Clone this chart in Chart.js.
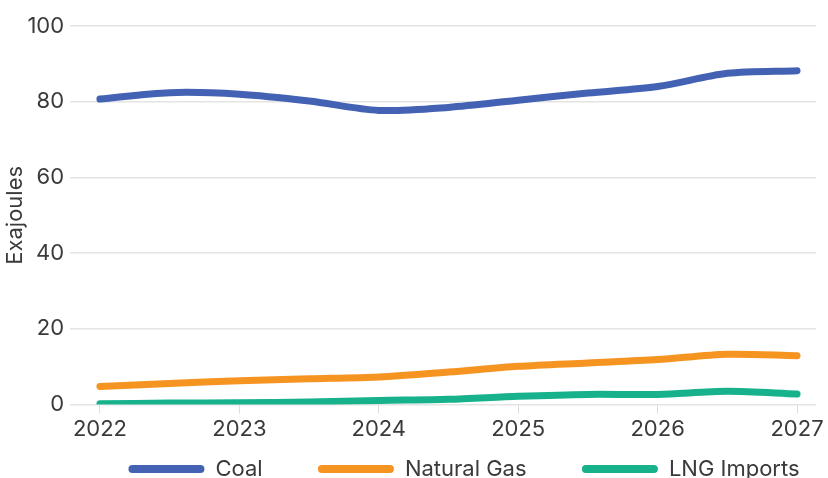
<!DOCTYPE html>
<html lang="en">
<head>
  <meta charset="UTF-8">
  <title>Exajoules</title>
  <script src="https://cdn.jsdelivr.net/npm/chart.js"></script>
  <style>
    html, body { margin: 0; padding: 0; background: #ffffff; }
    #wrap { width: 828px; height: 478px; }
  </style>
</head>
<body>
  <div id="wrap"><canvas id="chart" width="828" height="478"></canvas></div>
  <script>
    const years = [2022, 2022.5, 2023, 2023.5, 2024, 2024.5, 2025, 2025.5, 2026, 2026.5, 2027];
    const yearTicks = [2022, 2023, 2024, 2025, 2026, 2027];
    const coal = [80.7, 82.4, 82.0, 80.2, 77.7, 78.5, 80.4, 82.3, 84.0, 87.5, 88.2];
    const naturalGas = [4.8, 5.6, 6.3, 6.8, 7.3, 8.6, 10.1, 11.0, 11.9, 13.3, 12.9];
    const lngImports = [0.2, 0.4, 0.5, 0.7, 1.1, 1.4, 2.2, 2.7, 2.7, 3.5, 2.8];
    const yTicks = [0, 20, 40, 60, 80, 100];

    const toPoints = vals => vals.map((v, i) => ({ x: years[i], y: v }));

    function series(label, vals, color) {
      return {
        label: label,
        data: toPoints(vals),
        borderColor: color,
        backgroundColor: color,
        borderWidth: 7,
        borderCapStyle: 'round',
        borderJoinStyle: 'round',
        pointRadius: 0,
        tension: 0.3
      };
    }

    Chart.defaults.font.family = 'Inter, sans-serif';
    Chart.defaults.font.size = 22;
    Chart.defaults.color = '#3a3a3a';

    // trailing spaces widen the gap between legend items without growing the legend height
    const legendSpacer = '\u00a0'.repeat(7);

    // the legend row sits a bit right of centre in the original
    const legendShift = {
      id: 'legendShift',
      afterLayout(chart) {
        chart.legend.left += 55;
        chart.legend.right += 55;
      }
    };

    new Chart(document.getElementById('chart'), {
      type: 'line',
      data: {
        datasets: [
          series('Coal', coal, '#4462b4'),
          series('Natural Gas', naturalGas, '#f69422'),
          series('LNG Imports', lngImports, '#17b18c')
        ]
      },
      plugins: [legendShift],
      options: {
        responsive: false,
        animation: false,
        layout: { padding: { top: 26, left: 2, right: 12, bottom: -12 } },
        scales: {
          x: {
            type: 'linear',
            min: 2021.786,
            max: 2027.136,
            afterBuildTicks: axis => { axis.ticks = yearTicks.map(v => ({ value: v })); },
            ticks: { callback: v => String(v), padding: 3, maxRotation: 0 },
            grid: { drawOnChartArea: false, drawTicks: true, tickLength: 9, color: '#dddddd' },
            border: { display: false }
          },
          y: {
            min: 0,
            max: 100,
            afterBuildTicks: axis => { axis.ticks = yTicks.map(v => ({ value: v })); },
            ticks: { padding: 6 },
            grid: { color: '#e4e4e4', drawTicks: false, lineWidth: 1.5 },
            border: { display: false },
            title: { display: true, text: 'Exajoules', font: { size: 22 }, padding: { top: 0, bottom: -7 } }
          }
        },
        plugins: {
          tooltip: { enabled: false },
          legend: {
            position: 'bottom',
            labels: {
              boxWidth: 76,
              boxHeight: 8,
              padding: 12,
              useBorderRadius: true,
              borderRadius: 4,
              generateLabels: chart => Chart.defaults.plugins.legend.labels.generateLabels(chart)
                .map((item, i, all) => Object.assign(item, {
                  lineWidth: 0,
                  text: i < all.length - 1 ? item.text + legendSpacer : item.text
                }))
            }
          }
        }
      }
    });
  </script>
</body>
</html>
